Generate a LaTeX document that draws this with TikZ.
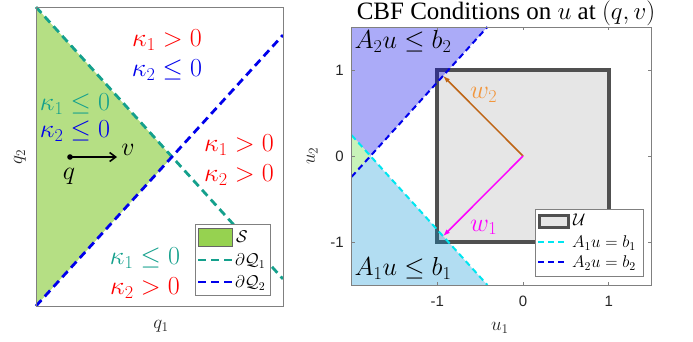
\RequirePackage{fix-cm}
\documentclass[tikz,border=0pt]{standalone}
\usepackage{amsmath,amssymb}
\usepackage[no-math]{fontspec}
\newfontfamily\titlefont{Liberation Serif}
\newfontfamily\tickfont{Liberation Sans}
\usepackage{xcolor}
\definecolor{sgreen}{RGB}{150,210,80}
\definecolor{qteal}{RGB}{20,160,140}
\definecolor{qblue}{RGB}{0,0,235}
\definecolor{kred}{RGB}{255,0,0}
\definecolor{axgray}{RGB}{128,128,128}
\definecolor{ubox}{RGB}{80,80,80}
\definecolor{ufill}{RGB}{230,230,230}
\definecolor{regone}{RGB}{0,142,212}
\definecolor{bothgreen}{RGB}{200,242,185}
\definecolor{bcyan}{RGB}{0,230,240}
\definecolor{wbrown}{RGB}{190,100,20}
\definecolor{worange}{RGB}{242,150,60}
\definecolor{wmag}{RGB}{255,0,255}
\usetikzlibrary{arrows.meta,positioning}

\begin{document}
\begin{tikzpicture}[
  x=1pt,y=-1pt,
  bigmath/.style={font=\fontsize{26}{30}\selectfont,inner sep=0pt},
  axlabel/.style={font=\fontsize{19}{22}\selectfont,text=black!85,inner sep=0pt},
  ticklabel/.style={font=\tickfont\fontsize{15}{18}\selectfont,text=black!85,inner sep=0pt},
  legtext/.style={font=\fontsize{17}{20}\selectfont,inner sep=0pt,anchor=west},
  axis/.style={draw=axgray,line width=0.8pt},
  qone/.style={draw=qteal,line width=2.8pt,dash pattern=on 8pt off 5pt},
  qtwo/.style={draw=qblue,line width=2.8pt,dash pattern=on 8pt off 5pt},
  bone/.style={draw=bcyan,line width=2pt,dash pattern=on 6pt off 4pt},
  btwo/.style={draw=qblue,line width=2pt,dash pattern=on 6pt off 4pt},
  warrow/.style={-{Latex[length=7pt,width=5pt]},line width=1.5pt}
]
\useasboundingbox (0,0) rectangle (693,341);

\coordinate (sa) at (36,7);
\coordinate (sb) at (36,306);
\coordinate (apex) at (172,157);
\fill[sgreen,fill opacity=0.7] (sa) -- (apex) -- (sb) -- cycle;
\draw[qone] (sa) -- (283,279);
\draw[qtwo] (sb) -- (283,35);
\draw[axis] (36,7) rectangle (283,306);

\node[bigmath,text=kred] (kta) at (167,40) {$\kappa_1>0$};
\node[bigmath,text=qblue] (ktb) at (167,70) {$\kappa_2\le 0$};
\node[bigmath,text=qteal] (kla) at (75,104) {$\kappa_1\le 0$};
\node[bigmath,text=qblue] (klb) at (75,131) {$\kappa_2\le 0$};
\node[bigmath,text=kred] (kra) at (239,145) {$\kappa_1>0$};
\node[bigmath,text=kred] (krb) at (239,175) {$\kappa_2>0$};
\node[bigmath,text=qteal] (kba) at (145,258) {$\kappa_1\le 0$};
\node[bigmath,text=kred] (kbb) at (145,288) {$\kappa_2>0$};

\coordinate (q) at (70,157);
\coordinate (vtip) at (117,157);
\fill (q) circle (2.8);
\draw[-{Straight Barb[length=6pt,width=9pt]},line width=1.6pt] (q) -- (vtip);
\node[bigmath] (vlab) at (128,150) {$v$};
\node[bigmath] (qlab) at (69,176) {$q$};

\node[axlabel] (qonelab) at (161,326) {$q_1$};
\node[axlabel,rotate=90] (qtwolab) at (20,157) {$q_2$};

\draw[axis,fill=white] (195,224) rectangle (270,295);
\draw[fill=sgreen,draw=black!60] (198,228) rectangle (232,246);
\draw[qone] (198,260) -- (232,260);
\draw[qtwo] (198,282) -- (232,282);
\node[legtext] (slab) at (236,237) {$\mathcal{S}$};
\node[legtext] (qonelg) at (235,261) {$\partial\mathcal{Q}_1$};
\node[legtext] (qtwolg) at (235,283) {$\partial\mathcal{Q}_2$};

\node[font=\titlefont\fontsize{25}{29}\selectfont,inner sep=0pt] (title) at (506,13) {CBF Conditions on $u$ at $(q,v)$};

\begin{scope}[shift={(523pt,-156pt)},x=85.7pt,y=86pt]
\coordinate (vtx) at (-1.78,0);
\fill[ufill] (-1,-1) rectangle (1,1);
\draw[ubox,line width=3.8pt] (-1,-1) rectangle (1,1);
\fill[qblue,fill opacity=0.33] (-2,1.5) -- (-0.416,1.5) -- (vtx) -- (-2,0.242) -- cycle;
\fill[regone,fill opacity=0.3] (-2,-1.5) -- (-0.416,-1.5) -- (vtx) -- (-2,-0.242) -- cycle;
\fill[bothgreen] (-2,0.242) -- (vtx) -- (-2,-0.242) -- cycle;
\draw[bone] (-2,0.242) -- (-0.416,-1.5);
\draw[btwo] (-2,-0.242) -- (-0.416,1.5);

\coordinate (o) at (0,0);
\coordinate (wone) at (-0.932,-0.932);
\coordinate (wtwo) at (-0.932,0.932);
\draw[warrow,wbrown] (o) -- (wtwo);
\draw[warrow,wmag] (o) -- (wone);
\node[bigmath,text=worange] (wtwolab) at (-0.46,0.71) {$w_2$};
\node[bigmath,text=wmag] (wonelab) at (-0.46,-0.83) {$w_1$};

\node[bigmath] (atwo) at (-1.40,1.33) {$A_2u\le b_2$};
\node[bigmath] (aone) at (-1.40,-1.31) {$A_1u\le b_1$};

\draw[axis] (-2,-1.5) rectangle (1.5,1.5);
\foreach \t in {-1,0,1} {
  \draw[axis] (\t,-1.5) -- ++(0,0.04);
  \draw[axis] (\t,1.5) -- ++(0,-0.04);
  \draw[axis] (-2,\t) -- ++(0.04,0);
  \draw[axis] (1.5,\t) -- ++(-0.04,0);
  \node[ticklabel,anchor=north] at (\t,-1.63) {\t};
  \node[ticklabel,anchor=east] at (-2.09,\t) {\t};
}
\node[axlabel] (uonelab) at (-0.27,-2.0) {$u_1$};
\node[axlabel,rotate=90] (utwolab) at (-2.46,0) {$u_2$};
\end{scope}

\draw[axis,fill=white] (535,209) rectangle (643,276);
\draw[ubox,line width=3pt,fill=ufill] (539,215) rectangle (568,227);
\draw[bone] (538,242) -- (566,242);
\draw[btwo] (538,262) -- (566,262);
\node[legtext] (ulg) at (573,220) {$\mathcal{U}$};
\node[legtext] (aonelg) at (572,243) {$A_1u=b_1$};
\node[legtext] (atwolg) at (572,263) {$A_2u=b_2$};
\end{tikzpicture}
\end{document}
